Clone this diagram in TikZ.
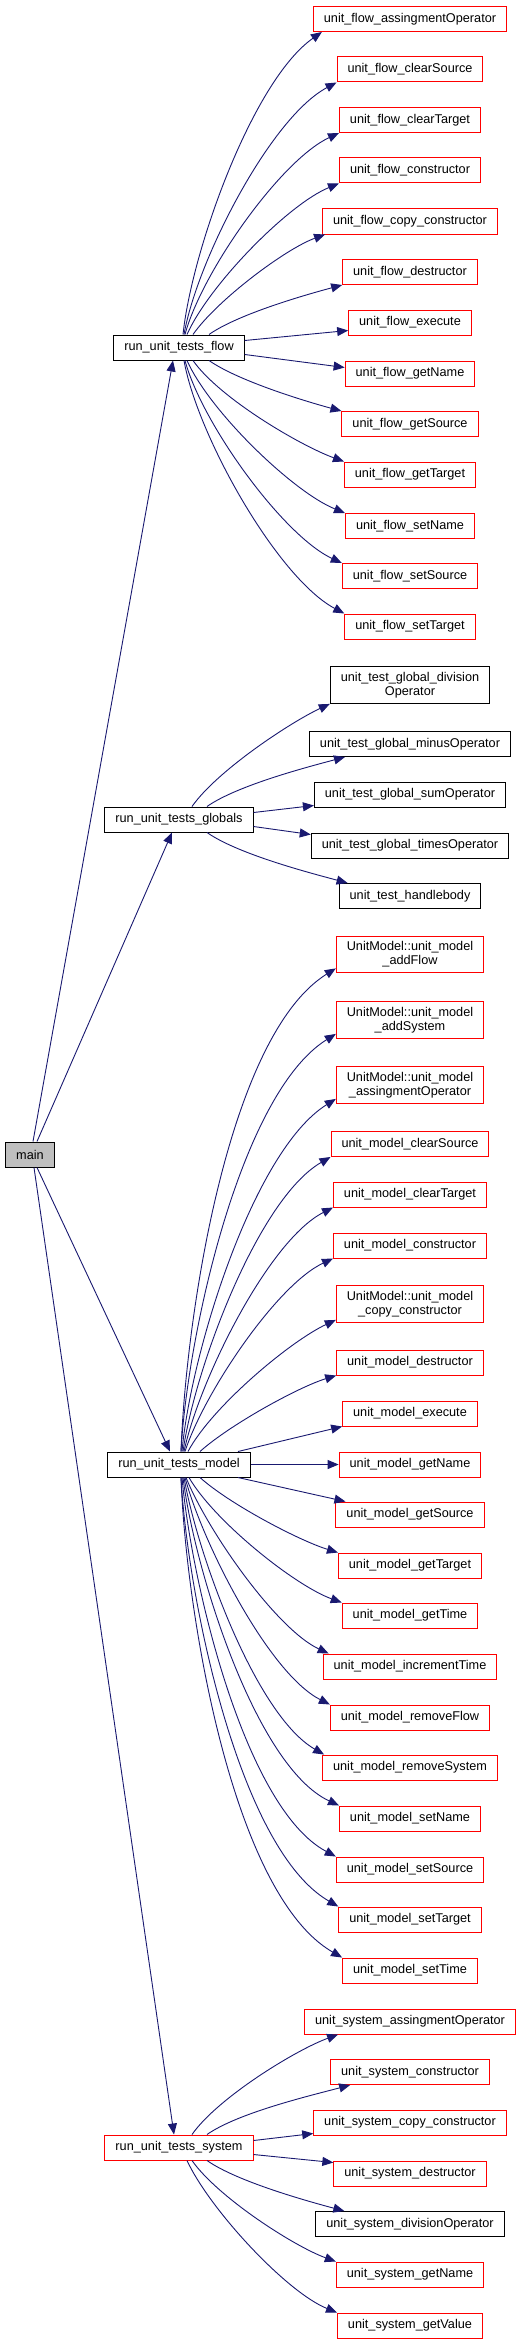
\documentclass[tikz,border=0pt]{standalone}
\usepackage{fontspec}
\setmainfont{Liberation Sans}
\usepackage{tikz}
\usetikzlibrary{arrows.meta}
\definecolor{azulSeta}{HTML}{191970}
\definecolor{cinzaMain}{HTML}{BFBFBF}
\newcommand{\corSeta}{azulSeta}
\newcommand{\corVerm}{red}
\newcommand{\corPreto}{black}
\newcommand{\corMain}{cinzaMain}

\begin{document}
\begin{tikzpicture}[x=1pt,y=-1pt,
    func/.style={draw, rectangle, line width=1pt, inner xsep=10.5pt, inner ysep=5.5pt,
                 minimum height=25pt, align=center, font=\fontsize{12.7}{14}\selectfont},
    redfunc/.style={func, draw=\corVerm},
    blackfunc/.style={func, draw=\corPreto},
    mainfunc/.style={func, draw=\corPreto, fill=\corMain},
    call/.style={draw=\corSeta, line width=0.9pt, -{Triangle[length=11pt,width=9pt]}, looseness=0.65}]
        \useasboundingbox (0,0) rectangle (529,2344);

          % raiz e chamadas de primeiro nivel
        \node[mainfunc] (main) at (30,1154.5) {main};
        \node[blackfunc] (runFlow) at (179,347.5) {run\_unit\_tests\_flow};
        \node[blackfunc] (runGlobals) at (179,819.5) {run\_unit\_tests\_globals};
        \node[blackfunc] (runModel) at (179,1464.5) {run\_unit\_tests\_model};
        \node[redfunc] (runSystem) at (179,2147.5) {run\_unit\_tests\_system};

        \draw[call] ([xshift=3pt]main.north) -- ([xshift=-6pt]runFlow.south);
        \draw[call] ([xshift=7pt]main.north) -- ([xshift=-7pt]runGlobals.south);
        \draw[call] ([xshift=7pt]main.south) -- ([xshift=-9pt]runModel.north);
        \draw[call] ([xshift=4pt]main.south) -- ([xshift=-5pt]runSystem.north);

          % grupo flow
        \node[redfunc] (flowAssign) at (410,19) {unit\_flow\_assingmentOperator};
        \node[redfunc] (flowClearSource) at (410,69.5) {unit\_flow\_clearSource};
        \node[redfunc] (flowClearTarget) at (410,120) {unit\_flow\_clearTarget};
        \node[redfunc] (flowCtor) at (410,170.5) {unit\_flow\_constructor};
        \node[redfunc] (flowCopyCtor) at (410,221.5) {unit\_flow\_copy\_constructor};
        \node[redfunc] (flowDtor) at (410,272) {unit\_flow\_destructor};
        \node[redfunc] (flowExecute) at (410,322.5) {unit\_flow\_execute};
        \node[redfunc] (flowGetName) at (410,373.5) {unit\_flow\_getName};
        \node[redfunc] (flowGetSource) at (410,424) {unit\_flow\_getSource};
        \node[redfunc] (flowGetTarget) at (410,474.5) {unit\_flow\_getTarget};
        \node[redfunc] (flowSetName) at (410,526) {unit\_flow\_setName};
        \node[redfunc] (flowSetSource) at (410,576) {unit\_flow\_setSource};
        \node[redfunc] (flowSetTarget) at (410,626.5) {unit\_flow\_setTarget};

        \draw[call] ([xshift=4pt]runFlow.north) to[out=84,in=215] ([xshift=9pt]flowAssign.south west);
        \draw[call] ([xshift=5pt]runFlow.north) to[out=80,in=208] (flowClearSource.south west);
        \draw[call] ([xshift=6pt]runFlow.north) to[out=75,in=205] (flowClearTarget.south west);
        \draw[call] ([xshift=8pt]runFlow.north) to[out=66,in=202] (flowCtor.south west);
        \draw[call] ([xshift=14pt]runFlow.north) to[out=55,in=200] ([xshift=3pt]flowCopyCtor.south west);
        \draw[call] ([xshift=30pt]runFlow.north) to[out=35,in=195] (flowDtor.south west);
        \draw[call] ([yshift=7pt]runFlow.east) -- ([yshift=-8pt]flowExecute.west);
        \draw[call] ([yshift=-7pt]runFlow.east) -- ([yshift=6pt]flowGetName.west);
        \draw[call] ([xshift=30pt]runFlow.south) to[out=-35,in=165] (flowGetSource.north west);
        \draw[call] ([xshift=14pt]runFlow.south) to[out=-55,in=160] (flowGetTarget.north west);
        \draw[call] ([xshift=8pt]runFlow.south) to[out=-66,in=158] (flowSetName.north west);
        \draw[call] ([xshift=6pt]runFlow.south) to[out=-75,in=155] (flowSetSource.north west);
        \draw[call] ([xshift=5pt]runFlow.south) to[out=-80,in=152] (flowSetTarget.north west);

          % grupo globals
        \node[blackfunc] (globDivision) at (410,685) {unit\_test\_global\_division\\Operator};
        \node[blackfunc] (globMinus) at (410,744) {unit\_test\_global\_minusOperator};
        \node[blackfunc] (globSum) at (410,794.5) {unit\_test\_global\_sumOperator};
        \node[blackfunc] (globTimes) at (410,845.5) {unit\_test\_global\_timesOperator};
        \node[blackfunc] (globHandle) at (410,896) {unit\_test\_handlebody};

        \draw[call] ([xshift=13pt]runGlobals.north) to[out=55,in=205] (globDivision.south west);
        \draw[call] ([xshift=28pt]runGlobals.north) to[out=35,in=195] ([xshift=36pt]globMinus.south west);
        \draw[call] ([yshift=7pt]runGlobals.east) -- ([yshift=2pt]globSum.south west);
        \draw[call] ([yshift=-7pt]runGlobals.east) -- ([yshift=-2pt]globTimes.north west);
        \draw[call] ([xshift=28pt]runGlobals.south) to[out=-35,in=165] ([xshift=9pt]globHandle.north west);

          % grupo model
        \node[redfunc] (mAddFlow) at (410,954.5) {UnitModel::unit\_model\\\_addFlow};
        \node[redfunc] (mAddSystem) at (410,1020) {UnitModel::unit\_model\\\_addSystem};
        \node[redfunc] (mAssign) at (410,1085) {UnitModel::unit\_model\\\_assingmentOperator};
        \node[redfunc] (mClearSource) at (410,1144) {unit\_model\_clearSource};
        \node[redfunc] (mClearTarget) at (410,1194.5) {unit\_model\_clearTarget};
        \node[redfunc] (mCtor) at (410,1245.5) {unit\_model\_constructor};
        \node[redfunc] (mCopyCtor) at (410,1304) {UnitModel::unit\_model\\\_copy\_constructor};
        \node[redfunc] (mDtor) at (410,1362.5) {unit\_model\_destructor};
        \node[redfunc] (mExecute) at (410,1413.5) {unit\_model\_execute};
        \node[redfunc] (mGetName) at (410,1464.5) {unit\_model\_getName};
        \node[redfunc] (mGetSource) at (410,1514.5) {unit\_model\_getSource};
        \node[redfunc] (mGetTarget) at (410,1565.5) {unit\_model\_getTarget};
        \node[redfunc] (mGetTime) at (410,1615.5) {unit\_model\_getTime};
        \node[redfunc] (mIncTime) at (410,1666.5) {unit\_model\_incrementTime};
        \node[redfunc] (mRemoveFlow) at (410,1717.5) {unit\_model\_removeFlow};
        \node[redfunc] (mRemoveSystem) at (410,1767.5) {unit\_model\_removeSystem};
        \node[redfunc] (mSetName) at (410,1818.5) {unit\_model\_setName};
        \node[redfunc] (mSetSource) at (410,1869.5) {unit\_model\_setSource};
        \node[redfunc] (mSetTarget) at (410,1919.5) {unit\_model\_setTarget};
        \node[redfunc] (mSetTime) at (410,1970.5) {unit\_model\_setTime};

        \draw[call] ([xshift=2pt]runModel.north) to[out=88,in=212] ([yshift=5pt]mAddFlow.south west);
        \draw[call] ([xshift=2pt]runModel.north) to[out=87,in=212] ([yshift=5pt]mAddSystem.south west);
        \draw[call] ([xshift=3pt]runModel.north) to[out=85,in=212] ([yshift=5pt]mAssign.south west);
        \draw[call] ([xshift=4pt]runModel.north) to[out=82,in=210] (mClearSource.south west);
        \draw[call] ([xshift=5pt]runModel.north) to[out=78,in=207] (mClearTarget.south west);
        \draw[call] ([xshift=6pt]runModel.north) to[out=72,in=205] (mCtor.south west);
        \draw[call] ([xshift=9pt]runModel.north) to[out=62,in=205] ([yshift=3pt]mCopyCtor.south west);
        \draw[call] ([xshift=21pt]runModel.north) to[out=42,in=197] (mDtor.south west);
        \draw[call] ([xshift=59pt]runModel.north) -- (mExecute.south west);
        \draw[call] (runModel.east) -- (mGetName.west);
        \draw[call] ([xshift=59pt]runModel.south) -- ([xshift=10pt]mGetSource.north west);
        \draw[call] ([xshift=21pt]runModel.south) to[out=-42,in=163] (mGetTarget.north west);
        \draw[call] ([xshift=10pt]runModel.south) to[out=-60,in=160] (mGetTime.north west);
        \draw[call] ([xshift=7pt]runModel.south) to[out=-68,in=155] ([xshift=6pt]mIncTime.north west);
        \draw[call] ([xshift=6pt]runModel.south) to[out=-75,in=153] (mRemoveFlow.north west);
        \draw[call] ([xshift=5pt]runModel.south) to[out=-80,in=150] ([xshift=2pt]mRemoveSystem.north west);
        \draw[call] ([xshift=4pt]runModel.south) to[out=-83,in=155] (mSetName.north west);
        \draw[call] ([xshift=3pt]runModel.south) to[out=-85,in=152] (mSetSource.north west);
        \draw[call] ([xshift=2pt]runModel.south) to[out=-87,in=150] (mSetTarget.north west);
        \draw[call] ([xshift=2pt]runModel.south) to[out=-88,in=150] (mSetTime.north west);

          % grupo system
        \node[redfunc] (sAssign) at (410,2021.5) {unit\_system\_assingmentOperator};
        \node[redfunc] (sCtor) at (410,2072) {unit\_system\_constructor};
        \node[redfunc] (sCopyCtor) at (410,2122.5) {unit\_system\_copy\_constructor};
        \node[redfunc] (sDtor) at (410,2173.5) {unit\_system\_destructor};
        \node[blackfunc] (sDivision) at (410,2224) {unit\_system\_divisionOperator};
        \node[redfunc] (sGetName) at (410,2274.5) {unit\_system\_getName};
        \node[redfunc] (sGetValue) at (410,2325.5) {unit\_system\_getValue};

        \draw[call] ([xshift=13pt]runSystem.north) to[out=55,in=200] ([xshift=34pt]sAssign.south west);
        \draw[call] ([xshift=28pt]runSystem.north) to[out=35,in=195] ([xshift=20pt]sCtor.south west);
        \draw[call] ([yshift=7pt]runSystem.east) -- ([yshift=2pt]sCopyCtor.south west);
        \draw[call] ([yshift=-7pt]runSystem.east) -- ([yshift=-2pt]sDtor.north west);
        \draw[call] ([xshift=28pt]runSystem.south) to[out=-35,in=165] ([xshift=29pt]sDivision.north west);
        \draw[call] ([xshift=13pt]runSystem.south) to[out=-55,in=160] (sGetName.north west);
        \draw[call] ([xshift=8pt]runSystem.south) to[out=-65,in=158] (sGetValue.north west);
    \end{tikzpicture}
\end{document}
